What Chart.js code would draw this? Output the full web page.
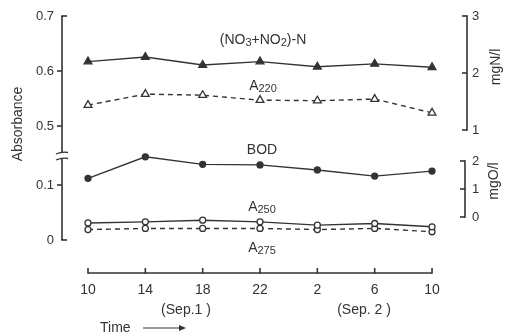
<!DOCTYPE html>
<html>
<head>
<meta charset="utf-8">
<script src="https://cdn.jsdelivr.net/npm/chart.js@4.4.1/dist/chart.umd.min.js"></script>
<style>
html,body{margin:0;padding:0;background:#fff;}
#wrap{width:510px;height:335px;}
</style>
</head>
<body>
<div id="wrap"><canvas id="c" width="510" height="335"></canvas></div>
<script>
// ---- data ----
const timeLabels = ['10', '14', '18', '22', '2', '6', '10'];
const nitrogen = [2.20, 2.28, 2.14, 2.20, 2.11, 2.16, 2.10];   // (NO3+NO2)-N, mgN/l
const a220 = [0.538, 0.558, 0.556, 0.547, 0.546, 0.549, 0.524]; // absorbance
const bod = [1.38, 2.15, 1.88, 1.86, 1.68, 1.46, 1.64];         // BOD, mgO/l
const a250 = [0.031, 0.033, 0.036, 0.033, 0.027, 0.030, 0.024]; // absorbance
const a275 = [0.019, 0.021, 0.021, 0.021, 0.019, 0.021, 0.015]; // absorbance
const absUpperTicks = [0.5, 0.6, 0.7];
const absLowerTicks = [0, 0.1];
const nTicks = [1, 2, 3];
const bodTicks = [0, 1, 2];

const ink = '#333333';
const fam = '"Liberation Sans", Arial, sans-serif';
const toXY = arr => arr.map((v, i) => ({ x: i, y: v }));

function drawRich(ctx, parts, cx, cy) {
  const base = '14px ' + fam, sub = '11px ' + fam;
  let w = 0;
  parts.forEach(p => { ctx.font = p.s ? sub : base; w += ctx.measureText(p.t).width; });
  let x = cx - w / 2;
  ctx.textAlign = 'left';
  ctx.textBaseline = 'middle';
  parts.forEach(p => {
    ctx.font = p.s ? sub : base;
    ctx.fillText(p.t, x, cy + (p.s ? 3 : 0));
    x += ctx.measureText(p.t).width;
  });
}

const axisPlugin = {
  id: 'axisDraw',
  afterDatasetsDraw(chart) {
    const ctx = chart.ctx;
    const s = chart.scales;
    ctx.save();
    ctx.strokeStyle = ink;
    ctx.fillStyle = ink;
    ctx.lineWidth = 1.6;
    ctx.lineCap = 'butt';
    const seg = (x1, y1, x2, y2) => { ctx.beginPath(); ctx.moveTo(x1, y1); ctx.lineTo(x2, y2); ctx.stroke(); };

    // left broken axis
    const xl = s.yTop.right;
    const brk = s.yTop.bottom;
    const yTopMax = s.yTop.getPixelForValue(absUpperTicks[absUpperTicks.length - 1]);
    seg(xl, yTopMax, xl, brk - 3);
    seg(xl - 0.8, yTopMax, xl + 5, yTopMax);
    absUpperTicks.slice(0, -1).forEach(v => { const y = s.yTop.getPixelForValue(v); seg(xl - 5, y, xl, y); });
    const yZero = s.yBot.getPixelForValue(absLowerTicks[0]);
    seg(xl, brk + 3, xl, yZero);
    seg(xl - 0.8, yZero, xl + 5, yZero);
    absLowerTicks.slice(1).forEach(v => { const y = s.yBot.getPixelForValue(v); seg(xl - 5, y, xl, y); });
    // break marks
    ctx.lineWidth = 1.3;
    [brk - 3, brk + 3].forEach(y => {
      ctx.beginPath();
      ctx.moveTo(xl - 6, y + 1);
      ctx.quadraticCurveTo(xl, y - 1.5, xl + 6, y - 0.5);
      ctx.stroke();
    });
    ctx.lineWidth = 1.6;

    // right N axis
    const xr = s.yN.left;
    const n1 = s.yN.getPixelForValue(nTicks[0]), n3 = s.yN.getPixelForValue(nTicks[nTicks.length - 1]);
    seg(xr, n3 - 0.8, xr, n1 + 0.8);
    nTicks.forEach(v => { const y = s.yN.getPixelForValue(v); seg(xr - 5, y, xr, y); });

    // right BOD axis
    const xb = s.yBOD.left - 2;
    const b0 = s.yBOD.getPixelForValue(bodTicks[0]), b2 = s.yBOD.getPixelForValue(bodTicks[bodTicks.length - 1]);
    seg(xb, b2 - 0.8, xb, b0 + 0.8);
    bodTicks.forEach(v => { const y = s.yBOD.getPixelForValue(v); seg(xb - 5, y, xb, y); });

    // x axis (detached)
    const yx = s.x.top;
    const x0 = s.x.getPixelForValue(0), x6 = s.x.getPixelForValue(timeLabels.length - 1);
    seg(x0, yx, x6, yx);
    timeLabels.forEach((_, i) => { const x = s.x.getPixelForValue(i); seg(x, yx + 0.8, x, yx - 5); });

    // texts
    ctx.font = '14px ' + fam;
    ctx.textAlign = 'center';
    ctx.textBaseline = 'middle';
    const rot = (t, x, y) => { ctx.save(); ctx.translate(x, y); ctx.rotate(-Math.PI / 2); ctx.fillText(t, 0, 0); ctx.restore(); };
    rot('Absorbance', 18, 124);
    rot('mgN/l', 496, 67);
    rot('mgO/l', 494, 181);

    ctx.fillText('(Sep.1 )', 186, 310);
    ctx.fillText('(Sep. 2 )', 364, 310);
    ctx.textAlign = 'left';
    ctx.fillText('Time', 100, 328);
    ctx.lineWidth = 1.2;
    seg(143, 328, 183, 328);
    ctx.beginPath(); ctx.moveTo(186, 328); ctx.lineTo(179, 325); ctx.lineTo(179, 331); ctx.closePath(); ctx.fill();

    drawRich(ctx, [{t: '(NO'}, {t: '3', s: 1}, {t: '+NO'}, {t: '2', s: 1}, {t: ')-N'}], 263, 40);
    drawRich(ctx, [{t: 'A'}, {t: '220', s: 1}], 263, 86);
    drawRich(ctx, [{t: 'BOD'}], 262, 150);
    drawRich(ctx, [{t: 'A'}, {t: '250', s: 1}], 262, 207);
    drawRich(ctx, [{t: 'A'}, {t: '275', s: 1}], 262, 248);
    ctx.restore();
  }
};

const common = { borderColor: ink, borderWidth: 1.4, tension: 0, pointBorderColor: ink, pointBorderWidth: 1.3, pointHoverRadius: 0 };
const tickFont = { family: fam, size: 13 };

new Chart(document.getElementById('c'), {
  type: 'line',
  data: {
    datasets: [
      Object.assign({}, common, { label: '(NO3+NO2)-N', data: toXY(nitrogen), yAxisID: 'yN', pointStyle: 'triangle', pointRadius: 4.5, pointBackgroundColor: ink }),
      Object.assign({}, common, { label: 'A220', data: toXY(a220), yAxisID: 'yTop', borderDash: [5, 4], pointStyle: 'triangle', pointRadius: 4.5, pointBackgroundColor: '#fff' }),
      Object.assign({}, common, { label: 'BOD', data: toXY(bod), yAxisID: 'yBOD', pointStyle: 'circle', pointRadius: 3, pointBackgroundColor: ink }),
      Object.assign({}, common, { label: 'A250', data: toXY(a250), yAxisID: 'yBot', pointStyle: 'circle', pointRadius: 3, pointBackgroundColor: '#fff' }),
      Object.assign({}, common, { label: 'A275', data: toXY(a275), yAxisID: 'yBot', borderDash: [5, 4], pointStyle: 'circle', pointRadius: 3, pointBackgroundColor: '#fff' })
    ]
  },
  options: {
    responsive: false,
    animation: false,
    devicePixelRatio: 1,
    layout: { padding: { top: 16, left: 0, right: 0, bottom: 0 } },
    plugins: { legend: { display: false }, tooltip: { enabled: false } },
    scales: {
      x: {
        type: 'linear', position: 'bottom', min: -0.4535, max: 6.61,
        afterFit: sc => { sc.height = 62; },
        afterBuildTicks: sc => { sc.ticks = timeLabels.map((_, i) => ({ value: i })); },
        ticks: { callback: (v, i) => timeLabels[i], color: ink, font: { family: fam, size: 14 }, padding: 9, maxRotation: 0, autoSkip: false },
        grid: { display: false, drawTicks: false }, border: { display: false }
      },
      yBot: {
        type: 'linear', position: 'left', stack: 'left', stackWeight: 117, min: -0.06, max: 0.1527,
        afterFit: sc => { sc.width = 62; },
        afterBuildTicks: sc => { sc.ticks = absLowerTicks.map(v => ({ value: v })); },
        ticks: { callback: v => (v === 0 ? '0' : v.toFixed(1)), color: ink, font: tickFont, padding: 8 },
        grid: { display: false, drawTicks: false }, border: { display: false }
      },
      yTop: {
        type: 'linear', position: 'left', stack: 'left', stackWeight: 140, min: 0.4455, max: 0.7,
        afterFit: sc => { sc.width = 62; },
        afterBuildTicks: sc => { sc.ticks = absUpperTicks.map(v => ({ value: v })); },
        ticks: { callback: v => v.toFixed(1), color: ink, font: tickFont, padding: 8 },
        grid: { display: false, drawTicks: false }, border: { display: false }
      },
      yN: {
        type: 'linear', position: 'right', stack: 'right', stackWeight: 130, min: 0.7193, max: 3,
        afterFit: sc => { sc.width = 43; },
        afterBuildTicks: sc => { sc.ticks = nTicks.map(v => ({ value: v })); },
        ticks: { callback: v => String(v), color: ink, font: tickFont, padding: 5 },
        grid: { display: false, drawTicks: false }, border: { display: false }
      },
      yBOD: {
        type: 'linear', position: 'right', stack: 'right', stackWeight: 127, min: -2.0, max: 2.5357,
        afterFit: sc => { sc.width = 43; },
        afterBuildTicks: sc => { sc.ticks = bodTicks.map(v => ({ value: v })); },
        ticks: { callback: v => String(v), color: ink, font: tickFont, padding: 5 },
        grid: { display: false, drawTicks: false }, border: { display: false }
      }
    }
  },
  plugins: [axisPlugin]
});
</script>
</body>
</html>
